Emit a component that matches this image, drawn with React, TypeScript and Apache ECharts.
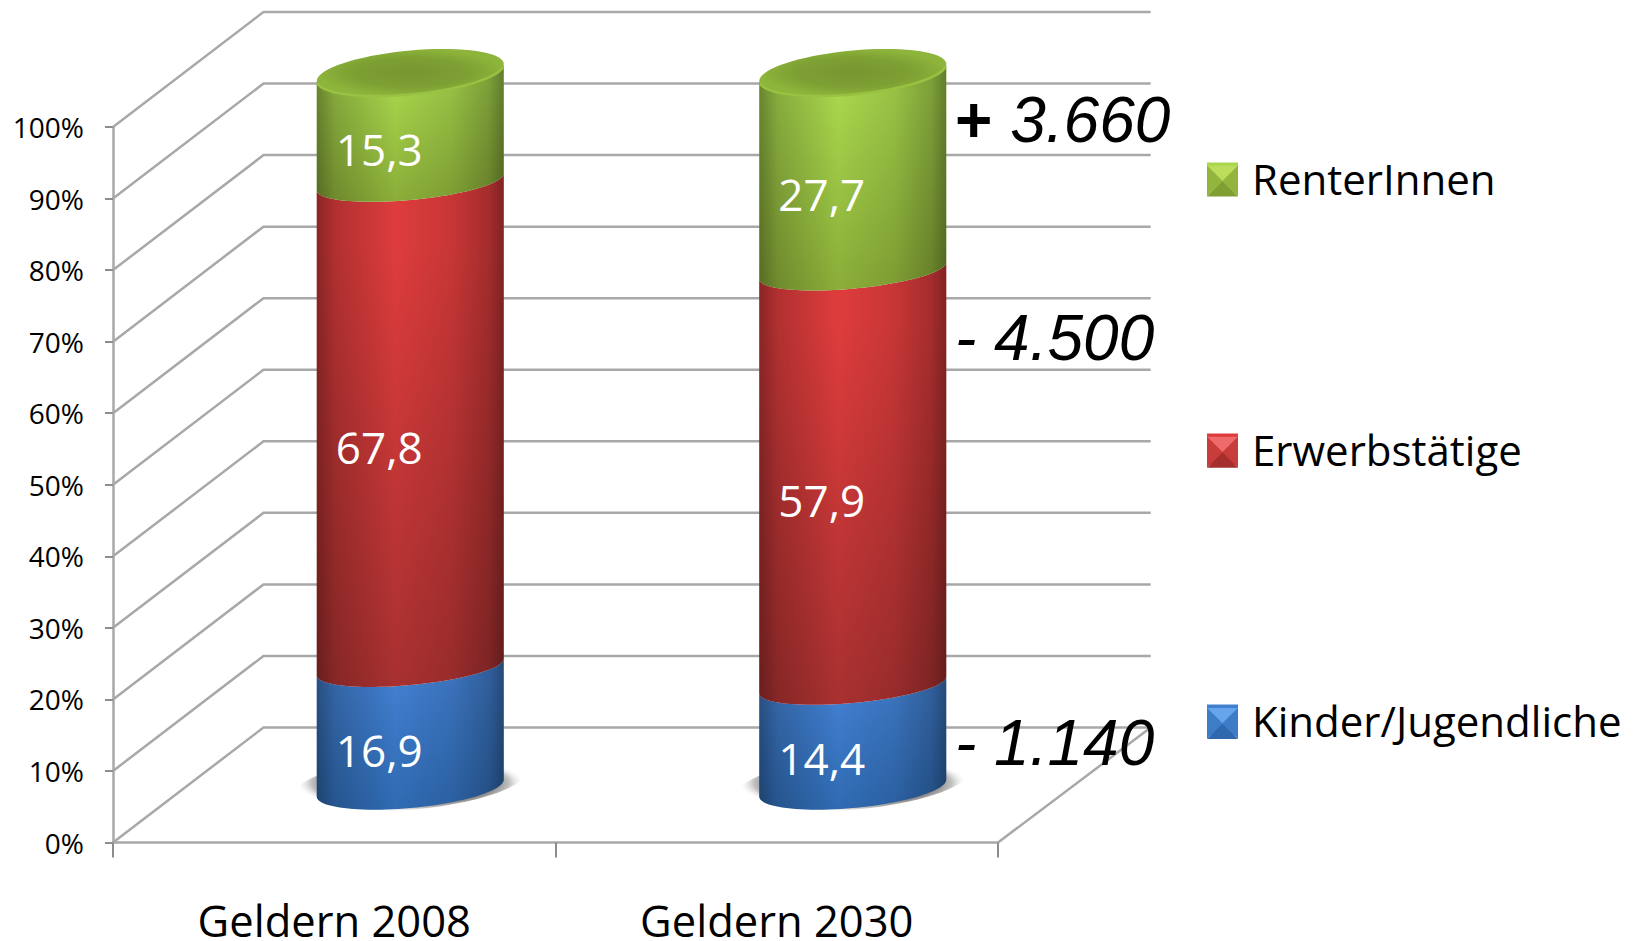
import React, { useEffect, useRef } from "react";
import * as echarts from "echarts";

const categories = ["Geldern 2008", "Geldern 2030"];
const kinder = [16.9, 14.4];
const erwerb = [67.8, 57.9];
const renter = [15.3, 27.7];
const gridValues = [0, 10, 20, 30, 40, 50, 60, 70, 80, 90, 100];
const seriesNames = ["RenterInnen", "Erwerbstätige", "Kinder/Jugendliche"];
const deltas = ["- 4.500", "- 1.140"];
const deltaPlus = ["+ ", "3.660"];

const FONT = "Open Sans";
const LINE = "#a8a8a8";
const DX = 150.5, DY = -115;
const RIGHT_BACK = 1150.7;
const CX_SHIFT = 76, A = 93.5, K = -0.09;
const cylY = (Y: number) => Y - 54.5;

function arc(cx: number, cy: number, a: number, b: number, from: number, to: number, n = 48) {
  const pts: number[][] = [];
  for (let i = 0; i <= n; i++) {
    const t = from + ((to - from) * i) / n;
    pts.push([cx + a * Math.cos(t), cy + K * a * Math.cos(t) + b * Math.sin(t)]);
  }
  return pts;
}
const lin = (x2: number, y2: number, stops: [number, string][]) =>
  new echarts.graphic.LinearGradient(0, 0, x2, y2, stops.map(([offset, color]) => ({ offset, color })));
const rad = (stops: [number, string][]) =>
  new echarts.graphic.RadialGradient(0.5, 0.5, 0.5, stops.map(([offset, color]) => ({ offset, color })));

const shade = () =>
  lin(1, 0, [
    [0, "rgba(0,0,0,0.38)"],
    [0.1, "rgba(0,0,0,0.2)"],
    [0.42, "rgba(0,0,0,0)"],
    [0.72, "rgba(0,0,0,0.1)"],
    [0.92, "rgba(0,0,0,0.26)"],
    [1, "rgba(0,0,0,0.42)"],
  ]);

type Opt = { top: string; bottom: string; isBase?: boolean; isTop?: boolean };

function segmentSeries(name: string, starts: number[], values: number[], o: Opt) {
  return {
    type: "custom",
    name,
    clip: false,
    silent: true,
    itemStyle: { color: o.top },
    encode: { x: 0, y: 2 },
    data: values.map((v, i) => [i, starts[i], starts[i] + v]),
    renderItem: (p: any, api: any) => {
      const i = api.value(0);
      const text = values[p.dataIndex].toFixed(1).replace(".", ",");
      const c0 = api.coord([i, api.value(1)]);
      const c1 = api.coord([i, api.value(2)]);
      const cx = c0[0] + CX_SHIFT;
      const y0 = cylY(c0[1]);
      const y1 = cylY(c1[1]);
      const lower = arc(cx, y0, A, o.isBase ? 20 : 18, Math.PI, 0);
      const upper = arc(cx, y1, A, o.isTop ? 22 : 18, 0, Math.PI);
      const points = [...lower, ...upper];
      const children: any[] = [];
      if (o.isBase) {
        children.push({
          type: "polygon",
          shape: { points: arc(cx, y0 - 5, 115, 27, 0, Math.PI * 2, 72) },
          style: {
            fill: rad([
              [0, "rgba(80,80,80,0.95)"],
              [0.7, "rgba(90,90,90,0.9)"],
              [0.86, "rgba(150,150,150,0.6)"],
              [1, "rgba(255,255,255,0)"],
            ]),
          },
        });
      }
      children.push({
        type: "polygon",
        shape: { points },
        style: { fill: lin(0, 1, [[0, o.top], [0.14, o.top], [1, o.bottom]]) },
      });
      children.push({ type: "polygon", shape: { points }, style: { fill: shade() } });
      if (o.isTop) {
        const cap = arc(cx, y1, A, 22, 0, Math.PI * 2, 72);
        children.push({
          type: "polygon",
          shape: { points: cap },
          style: {
            fill: rad([
              [0, "#769730"],
              [0.6, "#7d9f33"],
              [1, "#8db43b"],
            ]),
          },
        });
        children.push({
          type: "polyline",
          shape: { points: arc(cx, y1, A, 22, 0.12, Math.PI - 0.12) },
          style: { stroke: "#99c142", lineWidth: 2.5, fill: "none" },
        });
      }
      children.push({
        type: "text",
        x: cx - 31,
        y: (y0 + y1) / 2 + 22,
        style: {
          text,
          fill: "#ffffff",
          font: `44px "${FONT}"`,
          align: "center",
          verticalAlign: "middle",
        },
      });
      return { type: "group", children };
    },
  };
}

function wallSeries() {
  return {
    type: "custom",
    name: "wall",
    clip: false,
    silent: true,
    encode: { x: 0, y: 1 },
    data: gridValues.map((v) => [0, v]),
    renderItem: (p: any, api: any) => {
      const Y = api.coord([0, api.value(1)])[1];
      const L = p.coordSys.x;
      const R = p.coordSys.x + p.coordSys.width;
      const children: any[] = [
        {
          type: "polyline",
          shape: { points: [[L, Y], [L + DX, Y + DY], [RIGHT_BACK, Y + DY]] },
          style: { stroke: LINE, lineWidth: 2.5, fill: "none" },
        },
      ];
      if (api.value(1) === 0) {
        children.push({
          type: "line",
          shape: { x1: R, y1: Y, x2: RIGHT_BACK, y2: Y + DY },
          style: { stroke: LINE, lineWidth: 2.5 },
        });
      }
      return { type: "group", children };
    },
  };
}

const bevel = (x: number, y: number, s: number, top: string, side: string, bottom: string) => {
  const m = [x + s / 2, y + s / 2];
  const poly = (points: number[][], fill: string) => ({ type: "polygon", z: 50, shape: { points }, style: { fill } });
  return [
    poly([[x, y], [x + s, y], m], top),
    poly([[x, y + s], [x + s, y + s], m], bottom),
    poly([[x, y], [x, y + s], m], side),
    poly([[x + s, y], [x + s, y + s], m], side),
  ];
};

export default function App() {
  const ref = useRef<HTMLDivElement>(null);
  useEffect(() => {
    if (!ref.current) return;
    const chart = echarts.init(ref.current, undefined, { renderer: "svg" });
    const midStarts = kinder;
    const topStarts = kinder.map((v, i) => v + erwerb[i]);
    chart.setOption({
      animation: false,
      backgroundColor: "#ffffff",
      grid: { left: 113, top: 127, width: 885, height: 715.5, containLabel: false, outerBoundsMode: "none" },
      xAxis: {
        type: "category",
        data: categories,
        boundaryGap: true,
        axisLine: { lineStyle: { color: LINE, width: 2.5 } },
        axisTick: { show: true, length: 15, alignWithLabel: false, lineStyle: { color: "#8c8c8c", width: 2 } },
        axisLabel: { color: "#000", fontFamily: FONT, fontSize: 43.5, lineHeight: 36, margin: 60, hideOverlap: false },
      },
      yAxis: {
        type: "value",
        min: 0,
        max: 100,
        interval: 10,
        splitLine: { show: false },
        axisLine: { show: true, lineStyle: { color: LINE, width: 2.5 } },
        axisTick: { show: true, length: 8, lineStyle: { color: "#8c8c8c", width: 2 } },
        axisLabel: { color: "#000", fontFamily: FONT, fontSize: 28, margin: 29, padding: [4, 0, 0, 0], formatter: "{value}%" },
      },
      legend: {
        orient: "vertical",
        left: 1202,
        top: 152,
        icon: "rect",
        itemWidth: 31,
        itemHeight: 31,
        itemGap: 229,
        selectedMode: false,
        data: seriesNames,
        textStyle: { color: "#000", fontFamily: FONT, fontSize: 42, padding: [0, 0, 0, 9] },
      },
      series: [
        wallSeries(),
        segmentSeries(seriesNames[2], kinder.map(() => 0), kinder, { top: "#417fd0", bottom: "#2f6ab2", isBase: true }),
        segmentSeries(seriesNames[1], midStarts, erwerb, { top: "#de3c3c", bottom: "#a83030" }),
        segmentSeries(seriesNames[0], topStarts, renter, { top: "#a8d64c", bottom: "#8aad38", isTop: true }),
      ],
      graphic: [
        ...bevel(1207, 165.5, 31, "#bcdc5c", "#93b53e", "#7f9f35"),
        ...bevel(1207, 436.8, 31, "#ef6a6a", "#c83c3c", "#a52e2e"),
        ...bevel(1207, 708.1, 31, "#66a5ec", "#3d7cc6", "#2f68ac"),
        {
          type: "text",
          z: 100,
          x: 955,
          y: 119.5,
          style: {
            text: `{p|${deltaPlus[0]}}{n|${deltaPlus[1]}}`,
            verticalAlign: "middle",
            rich: {
              p: { font: `bold 64px "Liberation Sans"`, fill: "#000" },
              n: { font: `italic 64px "Liberation Sans"`, fill: "#000" },
            },
          },
        },
        {
          type: "text",
          z: 100,
          x: 955,
          y: 338,
          style: { text: deltas[0], font: `italic 64px "Liberation Sans"`, fill: "#000", verticalAlign: "middle" },
        },
        {
          type: "text",
          z: 100,
          x: 955,
          y: 743,
          style: { text: deltas[1], font: `italic 64px "Liberation Sans"`, fill: "#000", verticalAlign: "middle" },
        },
      ],
    } as any);
    return () => chart.dispose();
  }, []);
  return <div ref={ref} style={{ position: "absolute", left: 0, top: 0, width: 1641, height: 941 }} />;
}
